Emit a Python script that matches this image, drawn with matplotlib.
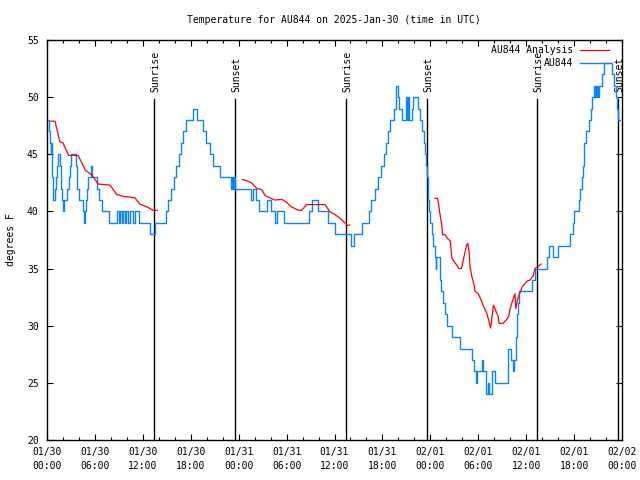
import datetime as dt

import matplotlib

matplotlib.use("Agg")
import matplotlib.pyplot as plt
import numpy as np
from matplotlib.ticker import FixedLocator, MultipleLocator

plt.rcParams["font.family"] = ["DejaVu Sans Mono"]
plt.rcParams["font.size"] = 7

title = "Temperature for AU844 on 2025-Jan-30 (time in UTC)"
start = dt.datetime(2025, 1, 30, 0, 0)

# hours since 2025-01-30 00:00 UTC
obs_hours = [
    0.00, 0.20, 0.35, 0.45, 0.55, 0.65, 0.80, 0.95, 1.10, 1.25, 1.40, 1.65, 1.72, 1.85,
    2.00, 2.15, 2.50, 2.70, 2.90, 3.05, 3.65, 3.80, 3.95, 4.55, 4.65, 4.75, 4.85, 5.00,
    5.15, 5.55, 5.65, 6.20, 6.55, 6.85, 7.80, 8.80, 9.00, 9.15, 9.40, 9.55, 9.80, 9.95,
    10.20, 10.35, 10.80, 11.00, 11.55, 12.90, 13.50, 14.95, 15.20, 15.55, 15.90, 16.20,
    16.50, 16.80, 17.05, 17.45, 18.25, 18.75, 19.55, 19.95, 20.35, 20.75, 21.70, 23.00,
    23.15, 23.30, 23.40, 23.55, 25.55, 25.80, 26.20, 26.60, 27.50, 28.10, 28.50, 28.80,
    29.70, 32.80, 33.20, 33.90, 35.20, 36.00, 38.10, 38.50, 39.50, 40.30, 40.60, 41.10,
    41.50, 41.80, 42.15, 42.40, 42.65, 42.90, 43.50, 43.65, 43.75, 43.95, 44.10, 44.45,
    44.95, 45.10, 45.25, 45.35, 45.75, 45.85, 46.50, 46.75, 47.00, 47.20, 47.35, 47.45,
    47.55, 47.65, 47.75, 47.85, 47.95, 48.15, 48.35, 48.55, 48.65, 48.75, 49.15, 49.25,
    49.35, 49.60, 49.80, 50.10, 50.70, 51.75, 53.25, 53.45, 53.75, 53.85, 54.45, 54.60,
    55.00, 55.25, 55.40, 55.75, 56.10, 57.70, 58.15, 58.35, 58.50, 58.70, 58.85, 59.00,
    59.15, 60.75, 61.15, 62.55, 62.80, 63.40, 63.95, 65.55, 65.85, 66.05, 66.65, 66.80,
    66.95, 67.10, 67.20, 67.30, 67.50, 67.90, 68.10, 68.25, 68.45, 68.60, 68.70, 68.80,
    68.90, 69.00, 69.10, 69.50, 69.80, 70.80, 71.00, 71.25, 71.40, 71.55, 71.75,
]
obs_temps = [
    48, 47, 46, 45, 46, 43, 41, 42, 43, 44, 45, 44, 42, 41,
    40, 41, 42, 43, 44, 45, 44, 42, 41, 40, 39, 40, 41, 42,
    43, 44, 43, 42, 41, 40, 39, 40, 39, 40, 39, 40, 39, 40,
    39, 40, 39, 40, 39, 38, 39, 40, 41, 42, 43, 44,
    45, 46, 47, 48, 49, 48, 47, 46, 45, 44, 43, 42,
    43, 42, 43, 42, 41, 42, 41, 40, 41, 40, 39, 40,
    39, 40, 41, 40, 39, 38, 37, 38, 39, 40, 41, 42,
    43, 44, 45, 46, 47, 48, 49, 50, 51, 50, 49, 48,
    50, 48, 50, 48, 49, 50, 49, 48, 47, 46, 45, 44,
    43, 42, 41, 40, 39, 38, 37, 36, 35, 36, 35, 34,
    33, 32, 31, 30, 29, 28, 27, 26, 25, 26, 27, 26,
    24, 25, 24, 26, 25, 28, 27, 26, 27, 29, 31, 32,
    33, 34, 35, 36, 37, 36, 37, 38, 39, 40, 41, 42,
    43, 44, 45, 46, 47, 48, 49, 50, 51, 50, 51, 50,
    51, 50, 51, 52, 53, 52, 51, 50, 49, 48, 48,
]

# analysis series, None marks the gaps between the three runs
ana_hours = [
    0.5, 1.0, 1.6, 2.0, 2.7, 3.9, 4.8, 5.6, 6.4, 7.9, 8.7, 9.6, 11.0, 11.6, 12.5, 13.3, 13.8,
    None,
    24.5, 25.0, 25.6, 26.3, 26.9, 27.3, 27.9, 28.5, 29.4, 30.0, 30.6, 31.5, 31.9, 32.5,
    34.8, 35.4, 36.1, 36.7, 37.3, 37.6, 37.9,
    None,
    48.58, 48.88, 49.0, 49.2, 49.4, 49.55, 49.8, 50.2, 50.5, 50.7, 51.0, 51.3, 51.6, 51.9,
    52.2, 52.55, 52.7, 52.85, 52.97, 53.2, 53.5, 53.6, 54.0, 54.2, 54.4, 54.6, 55.05,
    55.3, 55.55, 55.9, 56.2, 56.5, 56.6, 57.1, 57.5, 57.8, 58.0, 58.3, 58.6, 58.7, 59.0,
    59.3, 59.5, 60.1, 60.5, 60.9, 61.1, 61.5, 61.9,
]
ana_temps = [
    47.9, 47.9, 46.1, 46.0, 44.9, 44.9, 43.6, 43.2, 42.4, 42.3, 41.5, 41.3, 41.2, 40.65,
    40.4, 40.1, 40.1,
    None,
    42.8, 42.7, 42.5, 42.0, 41.9, 41.4, 41.2, 41.0, 41.05, 40.8, 40.4, 40.1, 40.1, 40.6,
    40.6, 40.0, 39.7, 39.4, 39.0, 38.8, 38.8,
    None,
    41.15, 41.15, 40.8, 39.8, 38.96, 37.94, 38.0, 37.6, 37.4, 35.9, 35.6, 35.3, 35.0, 35.0,
    36.0, 37.06, 37.2, 36.5, 35.15, 34.3, 33.5, 33.0, 32.8, 32.5, 32.2, 31.8, 31.1,
    30.5, 29.8, 31.8, 31.3, 30.8, 30.2, 30.2, 30.5, 30.8, 31.5, 32.2, 32.8, 31.5, 32.5,
    33.0, 33.4, 33.9, 34.0, 34.4, 35.0, 35.2, 35.4,
]

sunrise_hours = [13.44, 37.48, 61.40]
sunset_hours = [23.54, 47.62, 71.55]

fig = plt.figure(figsize=(6.4, 4.8), dpi=100)
ax = fig.add_axes([47 / 640, 40 / 480, 575 / 640, 400 / 480])

# sun event markers
for name, hours in (("Sunrise", sunrise_hours), ("Sunset", sunset_hours)):
    for h in hours:
        ax.plot([h, h], [20, 49.85], color="black", lw=1.0, zorder=1)
        ax.text(h + 0.15, 50.45, name, rotation=90, ha="center", va="bottom",
                fontsize=7, clip_on=False, zorder=1)

ana_x = np.array(ana_hours, dtype=float)
ana_y = np.array(ana_temps, dtype=float)
ax.plot(ana_x, ana_y, color="#ff0000", lw=0.9, label="AU844 Analysis", zorder=3)
ax.step(obs_hours, obs_temps, where="post", color="#0a84ff", lw=1.0,
        label="AU844", zorder=2)

ax.set_xlim(0, 72)
ax.set_ylim(20, 55)

major = list(range(0, 73, 6))
ax.xaxis.set_major_locator(FixedLocator(major))
ax.xaxis.set_minor_locator(MultipleLocator(2))
ax.set_xticklabels(
    [(start + dt.timedelta(hours=h)).strftime("%m/%d\n%H:%M") for h in major],
    linespacing=1.45,
)
ax.yaxis.set_major_locator(MultipleLocator(5))

ax.tick_params(which="both", direction="in", top=True, right=True, width=0.8)
ax.tick_params(which="major", length=4.5)
ax.tick_params(which="minor", length=2.2)
ax.tick_params(axis="x", pad=5)
ax.tick_params(axis="y", pad=6)
for s in ax.spines.values():
    s.set_linewidth(1.0)

fig.text(334 / 640, 1 - 20 / 480, title, ha="center", va="center", fontsize=7)
fig.text(11 / 640, 0.5, "degrees F", rotation=90, ha="center", va="center", fontsize=7)

ax.legend(loc="upper right", bbox_to_anchor=(0.988, 1.003), frameon=False, markerfirst=False,
          handlelength=3.0, handletextpad=0.7, labelspacing=0.3, borderaxespad=0.25,
          fontsize=7)

fig.savefig("out.png", dpi=100)
